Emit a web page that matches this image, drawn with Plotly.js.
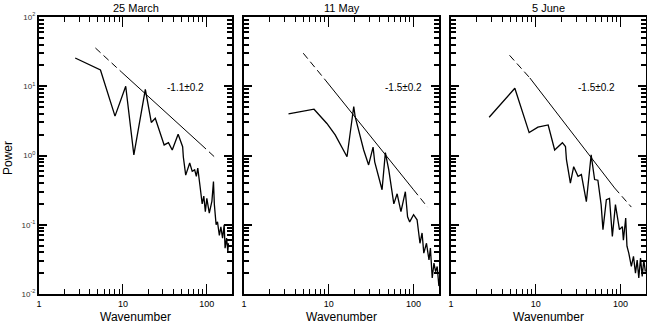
<!DOCTYPE html>
<html>
<head>
<meta charset="utf-8">
<script src="https://cdn.plot.ly/plotly-3.0.1.min.js"></script>
<style>
body{margin:0;background:#fff}
.modebar-container,.modebar{display:none !important}
</style>
</head>
<body>
<div id="plot" style="width:647px;height:323px"></div>
<script>
// spectra (wavenumber, power)
const marchK = [2.7, 5.4, 8.05, 10.8, 13.5, 18.5, 21.8, 24.3, 31, 34.9, 38.7, 45.5, 51.5, 52.5, 56, 62.5, 67, 71.6, 75, 78, 83, 88, 92, 96, 100, 107, 115, 120, 123, 129, 134, 141, 147, 154, 161, 165, 172, 178, 181];
const marchP = [25.6, 17.2, 3.7, 10, 1.02, 9, 3.0, 3.45, 1.42, 1.53, 1.2, 2.03, 1.34, 0.95, 0.52, 0.78, 0.59, 0.62, 0.50, 0.66, 0.36, 0.20, 0.26, 0.155, 0.24, 0.147, 0.22, 0.42, 0.195, 0.10, 0.11, 0.07, 0.093, 0.064, 0.10, 0.046, 0.064, 0.041, 0.054];

const mayK = [3.35, 6.7, 9.5, 11.9, 16.4, 19.7, 20.5, 25.8, 29.5, 33.3, 34.8, 42.5, 46.5, 51, 58.5, 64, 71, 80, 85, 90, 100, 110, 119, 126, 132, 142, 152, 158, 166, 174, 182, 190, 199];
const mayP = [4.0, 4.66, 2.9, 1.98, 0.96, 5.1, 3.6, 1.2, 0.73, 1.32, 0.81, 0.32, 1.10, 0.62, 0.20, 0.28, 0.155, 0.30, 0.13, 0.11, 0.14, 0.118, 0.054, 0.076, 0.039, 0.054, 0.031, 0.046, 0.017, 0.028, 0.021, 0.025, 0.013];

const juneK = [2.82, 5.66, 8.35, 10.6, 14.0, 16.7, 20.6, 22.4, 23, 25.6, 28, 31.5, 34.5, 39.5, 45, 49.4, 54, 59, 62, 68, 74, 80, 87, 93, 97, 105, 108, 115, 119, 125, 134, 142, 150, 157, 164, 172, 180, 188, 196];
const juneP = [3.57, 9.35, 2.14, 2.56, 2.76, 1.20, 1.53, 1.35, 0.87, 0.40, 0.69, 0.50, 0.53, 0.215, 1.02, 0.45, 0.44, 0.195, 0.085, 0.23, 0.24, 0.068, 0.195, 0.118, 0.085, 0.094, 0.060, 0.125, 0.049, 0.039, 0.025, 0.035, 0.020, 0.031, 0.017, 0.033, 0.018, 0.031, 0.021];

// fitted power laws: dashed start, solid middle, dashed end
const fitMarchK = [4.7, 9.7, 85, 124];
const fitMarchP = [35.7, 15.9, 1.45, 0.95];
const fitMayK = [5.0, 9.1, 100, 146];
const fitMayP = [30, 12.3, 0.32, 0.18];
const fitJuneK = [4.9, 8.5, 85, 134];
const fitJuneP = [28, 13.2, 0.34, 0.18];

const titles = ['25 March', '11 May', '5 June'];
const slopes = ['-1.1±0.2', '-1.5±0.2', '-1.5±0.2'];

const xTicks = [1, 10, 100];
const xTickText = ['1', '10', '100'];
const yTicks = [0.01, 0.1, 1, 10, 100];
const yTickText = ['10<sup>-2</sup>', '10<sup>-1</sup>', '10<sup>0</sup>', '10<sup>1</sup>', '10<sup>2</sup>'];

const spectra = [[marchK, marchP], [mayK, mayP], [juneK, juneP]];
const fits = [[fitMarchK, fitMarchP], [fitMayK, fitMayP], [fitJuneK, fitJuneP]];
const domains = [[39 / 647, 232 / 647], [244 / 647, 439 / 647], [451 / 647, 646 / 647]];
const slopePos = [185, 403, 596];
const yDom = [1 - 294 / 323, 1 - 17 / 323];

const FONT = 'Liberation Sans, Arial, sans-serif';
const data = [];
const layout = {
  width: 647, height: 323,
  margin: {l: 0, r: 0, t: 0, b: 0},
  paper_bgcolor: '#fff', plot_bgcolor: 'rgba(0,0,0,0)',
  showlegend: false,
  font: {family: FONT, color: '#000'},
  annotations: []
};

function note(text, x, y, size, extra) {
  return Object.assign({text: text, xref: 'paper', yref: 'paper', x: x / 647, y: 1 - y / 323,
    xanchor: 'center', yanchor: 'middle', showarrow: false, font: {size: size, family: FONT}}, extra || {});
}

spectra.forEach((s, i) => {
  const n = i === 0 ? '' : String(i + 1);
  const xa = 'x' + n, ya = 'y' + n;
  data.push({x: s[0], y: s[1], xaxis: xa, yaxis: ya, mode: 'lines', type: 'scatter',
    line: {color: '#000', width: 1.3}});
  const fk = fits[i][0], fp = fits[i][1];
  [[0, 1, 'dash'], [1, 2, 'solid'], [2, 3, 'dash']].forEach(seg => {
    data.push({x: [fk[seg[0]], fk[seg[1]]], y: [fp[seg[0]], fp[seg[1]]], xaxis: xa, yaxis: ya,
      mode: 'lines', type: 'scatter', line: {color: '#000', width: 1, dash: seg[2] === 'dash' ? '7px,4px' : 'solid'}});
  });

  layout['xaxis' + n] = {
    type: 'log', range: [0, 2.3], domain: domains[i], anchor: ya,
    showline: true, linewidth: 2, linecolor: '#000', mirror: 'ticks',
    ticks: 'inside', ticklen: 10, tickwidth: 1, tickcolor: '#000',
    tickmode: 'array', tickvals: xTicks, ticktext: xTickText, tickfont: {size: 9, family: FONT},
    minor: {dtick: 'D1', ticks: 'inside', ticklen: 5, tickwidth: 1, tickcolor: '#000', showgrid: false},
    showgrid: false, zeroline: false
  };
  layout['yaxis' + n] = {
    type: 'log', range: [-2, 2], domain: yDom, anchor: xa,
    showline: true, linewidth: 2, linecolor: '#000', mirror: 'ticks',
    ticks: 'inside', ticklen: 8, tickwidth: 2, tickcolor: '#000',
    tickmode: 'array', tickvals: yTicks, ticktext: yTickText, showticklabels: i === 0,
    tickfont: {size: 8, family: FONT, color: '#333'},
    minor: {dtick: 'D1', ticks: 'inside', ticklen: 5, tickwidth: 1.5, tickcolor: '#000', showgrid: false},
    showgrid: false, zeroline: false
  };

  const cx = (domains[i][0] + domains[i][1]) / 2 * 647;
  layout.annotations.push(note(titles[i], cx, 8, 11));
  layout.annotations.push(note('Wavenumber', cx, 317, 12));
  layout.annotations.push(note(slopes[i], slopePos[i], 87, 10));
});

layout.annotations.push(note('Power', 8, 158, 12, {textangle: -90}));

Plotly.newPlot('plot', data, layout);
</script>
</body>
</html>
